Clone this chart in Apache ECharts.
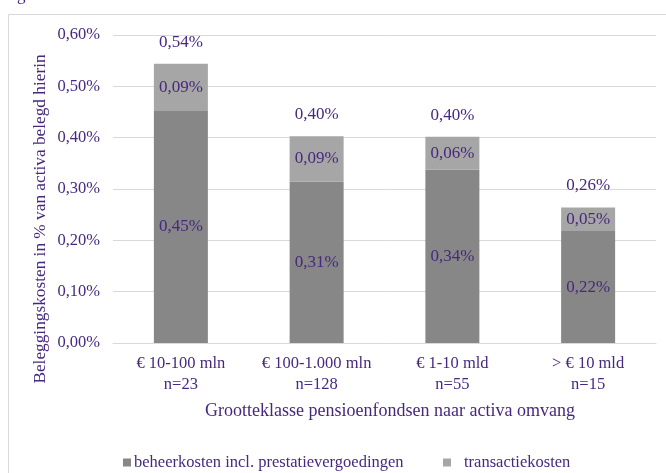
<!DOCTYPE html>
<html>
<head>
<meta charset="utf-8">
<script src="https://cdn.jsdelivr.net/npm/echarts@6/dist/echarts.min.js"></script>
<style>html,body{margin:0;padding:0;background:#fff}#c{width:666px;height:473px}</style>
</head>
<body>
<div id="c"></div>
<script>
const categories = ['€ 10-100 mln\nn=23', '€ 100-1.000 mln\nn=128', '€ 1-10 mld\nn=55', '> € 10 mld\nn=15'];
const beheerkosten = [0.452, 0.314, 0.338, 0.218];
const transactiekosten = [0.092, 0.089, 0.064, 0.046];
const totals = [0.544, 0.403, 0.402, 0.264];
const yTicks = [0, 0.1, 0.2, 0.3, 0.4, 0.5, 0.6];
const seriesNames = ['beheerkosten incl. prestatievergoedingen', 'transactiekosten'];

const TXT = '#47287e';
const FONT = '"Liberation Serif", "DejaVu Serif", serif';
const fmt = v => v.toFixed(2).replace('.', ',') + '%';

const chart = echarts.init(document.getElementById('c'));
chart.setOption({
  animation: false,
  textStyle: { fontFamily: FONT, color: TXT },
  grid: { left: 113, right: 10, top: 35, bottom: 130, containLabel: false },
  legend: [
    { data: [seriesNames[0]], left: 118, top: 449, icon: 'rect', itemWidth: 8, itemHeight: 8, itemGap: 0,
      textStyle: { fontFamily: FONT, fontSize: 16.5, color: TXT, padding: [0, 0, 0, -2] } },
    { data: [seriesNames[1]], left: 438, top: 449, icon: 'rect', itemWidth: 8, itemHeight: 8,
      textStyle: { fontFamily: FONT, fontSize: 16.5, color: TXT, padding: [0, 0, 0, 8] } }
  ],
  xAxis: {
    type: 'category',
    data: categories,
    axisLine: { lineStyle: { color: '#d9d9d9' } },
    axisTick: { show: false },
    axisLabel: { interval: 0, color: TXT, fontFamily: FONT, fontSize: 16.5, lineHeight: 21, margin: 10 }
  },
  yAxis: {
    type: 'value',
    min: 0, max: 0.6, interval: 0.1,
    axisLine: { show: false },
    axisTick: { show: false },
    splitLine: { lineStyle: { color: '#d9d9d9' } },
    axisLabel: { color: TXT, fontFamily: FONT, fontSize: 16.5, margin: 13,
      formatter: v => yTicks.indexOf(Math.round(v * 10) / 10) >= 0 ? fmt(v) : '' }
  },
  series: [
    { name: seriesNames[0], type: 'bar', stack: 's', data: beheerkosten, barWidth: 54,
      itemStyle: { color: '#878787' },
      label: { show: true, position: 'inside', color: TXT, fontFamily: FONT, fontSize: 17, formatter: p => fmt(p.value) } },
    { name: seriesNames[1], type: 'bar', stack: 's', data: transactiekosten, barWidth: 54,
      itemStyle: { color: '#a6a6a6' },
      label: { show: true, position: 'inside', color: TXT, fontFamily: FONT, fontSize: 17, formatter: p => fmt(p.value) } },
    { name: 'totaal', type: 'scatter', data: totals, symbolSize: 0, silent: true,
      itemStyle: { opacity: 1 },
      label: { show: true, position: 'top', distance: 13, color: TXT, fontFamily: FONT, fontSize: 17, formatter: p => fmt(p.value) } }
  ],
  graphic: [
    { type: 'rect', left: 6, top: 12, shape: { width: 680, height: 480 }, style: { fill: 'none', stroke: '#d9d9d9', lineWidth: 1 } },
    { type: 'text', x: 40, y: 219, rotation: Math.PI / 2,
      style: { text: 'Beleggingskosten in % van activa belegd hierin', fontFamily: FONT, fontSize: 17.3, fill: TXT, align: 'center', verticalAlign: 'middle' } },
    { type: 'text', x: 390, y: 411,
      style: { text: 'Grootteklasse pensioenfondsen naar activa omvang', fontFamily: FONT, fontSize: 18, fill: TXT, align: 'center', verticalAlign: 'middle' } },
    { type: 'text', x: 17, y: -13,
      style: { text: 'g', fontFamily: FONT, fontSize: 17, fill: TXT, align: 'left', verticalAlign: 'top' } }
  ]
});
</script>
</body>
</html>
